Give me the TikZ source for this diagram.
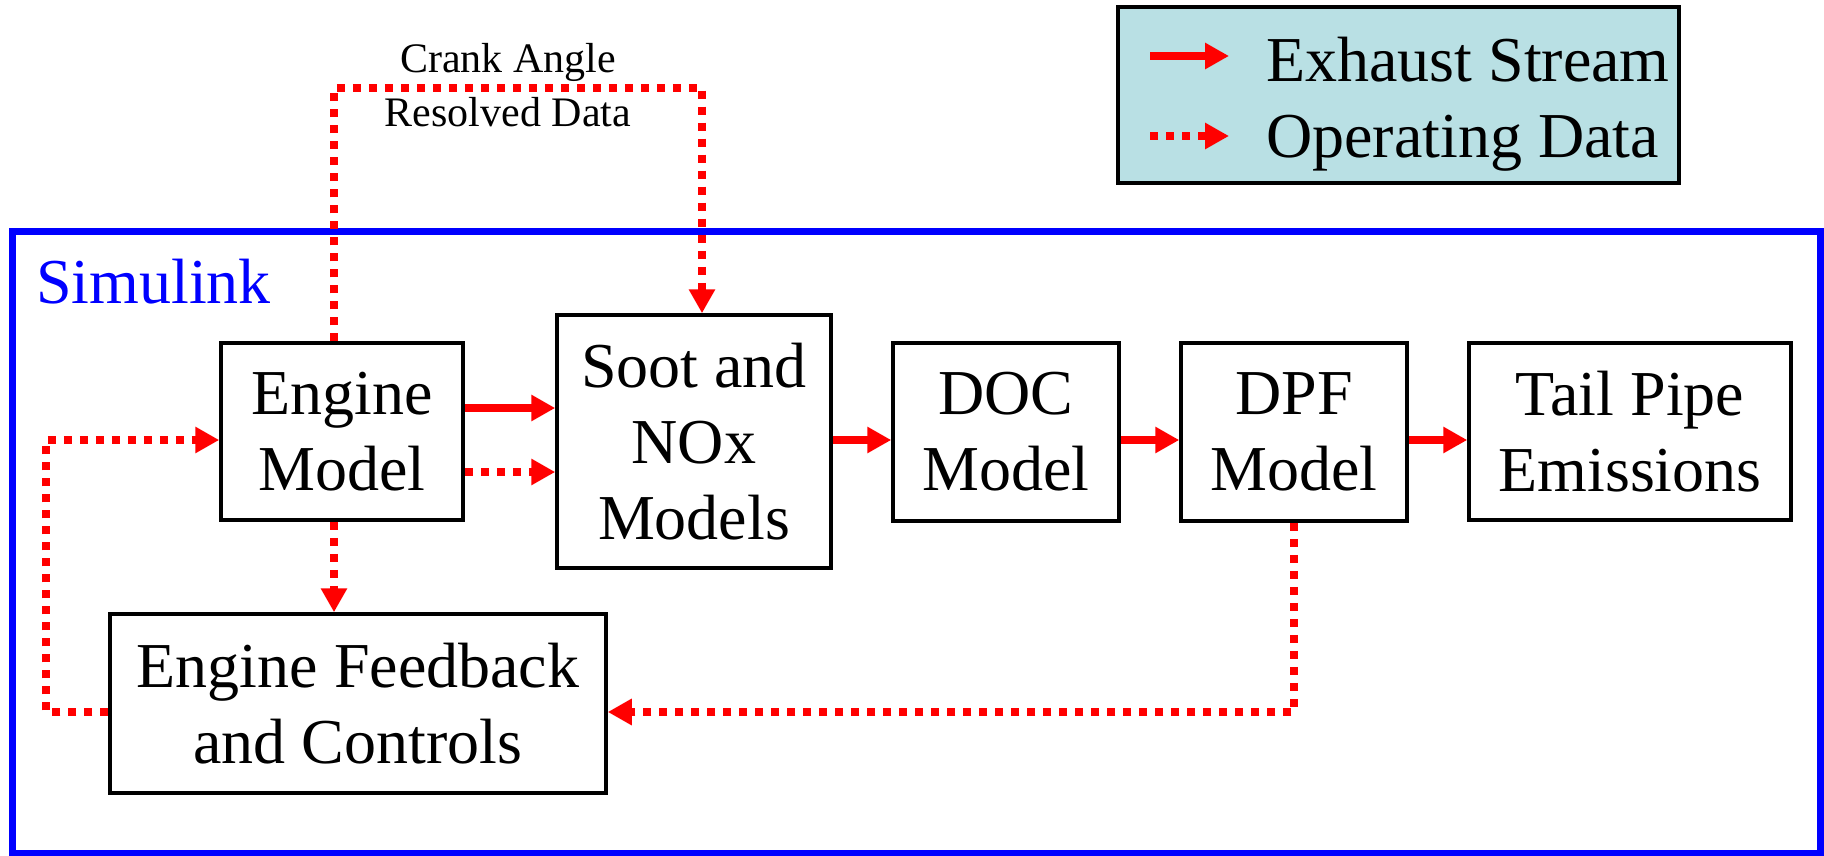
\documentclass[tikz,border=0pt]{standalone}
\usepackage{fontspec}
\setmainfont{Liberation Serif}
\usetikzlibrary{arrows.meta}
\definecolor{legfill}{RGB}{185,224,228}
\begin{document}
\begin{tikzpicture}[x=1pt,y=-1pt,
  blk/.style={draw=black,line width=3.5pt,fill=white,inner sep=0pt,align=center,
    font=\fontsize{64}{76}\selectfont},
  exh/.style={draw=red,line width=8.5pt,-{Triangle[length=24pt,width=25pt]}},
  opd/.style={draw=red,line width=7.5pt,dash pattern=on 8pt off 8pt,-{Triangle[length=24pt,width=25pt]}},
  lbl/.style={font=\fontsize{64}{76}\selectfont,inner sep=0pt}
]
\useasboundingbox (0,0) rectangle (1824,856);
% Simulink frame
\draw[blue,line width=7pt] (12,231) rectangle (1820,853);
\node[lbl,text=blue,anchor=base west] (sim) at (36,303) {Simulink};
% legend
\node[draw=black,line width=3.5pt,fill=legfill,minimum width=561pt,minimum height=176pt,inner sep=0pt] (leg) at (1398.5,95) {};
\coordinate (l1a) at (1150,56); \coordinate (l1b) at (1229,56);
\coordinate (l2a) at (1150,136); \coordinate (l2b) at (1229,136);
\draw[exh] (l1a) -- (l1b);
\draw[opd] (l2a) -- (l2b);
\node[lbl,anchor=base west] (lt1) at (1266,82) {Exhaust Stream};
\node[lbl,anchor=base west] (lt2) at (1266,158) {Operating Data};
% blocks
\node[blk,minimum width=242pt,minimum height=177pt] (eng) at (342,431.5) {Engine\\Model};
\node[blk,minimum width=274pt,minimum height=253pt] (soot) at (694,441.5) {Soot and\\NOx\\Models};
\node[blk,minimum width=226pt,minimum height=178pt] (doc) at (1006,432) {DOC\\Model};
\node[blk,minimum width=226pt,minimum height=178pt] (dpf) at (1294,432) {DPF\\Model};
\node[blk,minimum width=322pt,minimum height=177pt] (tail) at (1630,431.5) {Tail Pipe\\Emissions};
\node[blk,minimum width=496pt,minimum height=179pt] (fb) at (358,703.5) {Engine Feedback\\and Controls};
% exhaust stream
\draw[exh] (eng.east |- 0,408) -- (soot.west |- 0,408);
\draw[exh] (soot.east |- 0,440) -- (doc.west |- 0,440);
\draw[exh] (doc.east |- 0,440) -- (dpf.west |- 0,440);
\draw[exh] (dpf.east |- 0,440) -- (tail.west |- 0,440);
% operating data
\draw[opd] (eng.east |- 0,472) -- (soot.west |- 0,472);
\coordinate (ca1) at (334,88); \coordinate (ca2) at (702,88);
\draw[opd] (ca1 |- eng.north) -- (ca1) -- (ca2) -- (ca2 |- soot.north);
\node[inner sep=0pt,font=\fontsize{42}{54}\selectfont,align=center,anchor=base] (crank) at (508,127) {Crank Angle\\Resolved Data};
\draw[opd] (ca1 |- eng.south) -- (ca1 |- fb.north);
\coordinate (lp) at (46,440);
\draw[opd] (fb.west |- 0,712) -- (lp |- 0,712) -- (lp) -- (eng.west |- lp);
\draw[opd] (dpf.south) -- (dpf.south |- 0,712) -- (fb.east |- 0,712);
\end{tikzpicture}
\end{document}
